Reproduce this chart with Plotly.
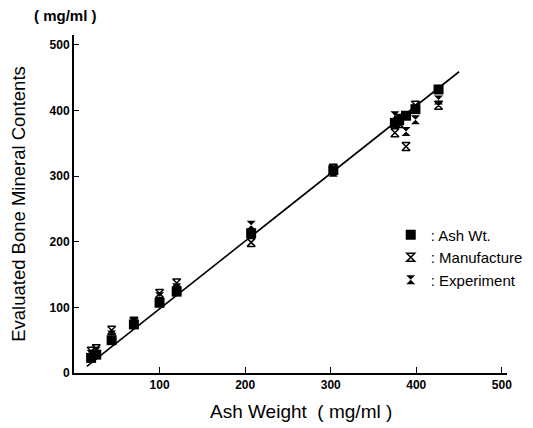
import plotly.graph_objects as go

# Ash weight of each sample (mg/ml)
ash_weight = [20, 26, 44, 70, 100, 120, 207, 303, 375, 380, 388, 399, 426]
# Evaluated bone mineral contents (mg/ml)
ash_wt_vals = [23, 28, 50, 74, 107, 124, 213, 309, 381, 385, 392, 402, 432]
manufacture_vals = [33, 37, 65, 79, 121, 137, 199, 312, 366, 380, 345, 408, 408]
experiment_vals = [28, 33, 58, 77, 116, 130, 225, 306, 392, 388, 368, 386, 416]

# regression line end points
fit_x = [15, 450]
fit_y = [10, 459]

x_ticks = [100, 200, 300, 400, 500]
y_ticks = [0, 100, 200, 300, 400, 500]

FONT = "Liberation Sans, Arial, Helvetica, sans-serif"

fig = go.Figure()
fig.add_trace(go.Scatter(x=fit_x, y=fit_y, mode="lines",
                         line=dict(color="black", width=1.6),
                         showlegend=False, hoverinfo="skip"))
fig.add_trace(go.Scatter(x=ash_weight, y=manufacture_vals, mode="markers",
                         name=": Manufacture", legendgroup="b", legendrank=2,
                         marker=dict(symbol="hourglass-open", size=8, color="black",
                                     line=dict(width=1.5, color="black"))))
fig.add_trace(go.Scatter(x=ash_weight, y=experiment_vals, mode="markers",
                         name=": Experiment", legendgroup="c", legendrank=3,
                         marker=dict(symbol="hourglass", size=9, color="black",
                                     line=dict(width=0))))
fig.add_trace(go.Scatter(x=ash_weight, y=ash_wt_vals, mode="markers",
                         name=": Ash Wt.", legendgroup="a", legendrank=1,
                         marker=dict(symbol="square", size=10, color="black",
                                     line=dict(width=0))))

fig.update_layout(
    width=533, height=428,
    margin=dict(l=66, r=34, t=27, b=63),
    paper_bgcolor="white", plot_bgcolor="white",
    font=dict(family=FONT, color="black"),
    showlegend=True,
    legend=dict(x=0.7315, y=0.457, xanchor="left", yanchor="top",
                font=dict(size=15, family=FONT, color="black"),
                tracegroupgap=9, bgcolor="rgba(0,0,0,0)",
                traceorder="normal"),
    xaxis=dict(range=[0, 506], tickvals=x_ticks, ticktext=[str(v) for v in x_ticks],
               ticks="inside", ticklen=6, tickwidth=1.2, tickcolor="black",
               showline=True, linecolor="black", linewidth=2,
               showgrid=False, zeroline=False, automargin=False,
               tickfont=dict(size=12, family=FONT, weight="bold")),
    yaxis=dict(range=[0, 515], tickvals=y_ticks, ticktext=[str(v) for v in y_ticks],
               ticks="inside", ticklen=5, tickwidth=1.2, tickcolor="black",
               showline=True, linecolor="black", linewidth=2,
               showgrid=False, zeroline=False, automargin=False,
               tickfont=dict(size=12, family=FONT, weight="bold"),
               title=dict(text="Evaluated Bone Mineral Contents", standoff=26,
                          font=dict(size=18.5, family=FONT))),
    annotations=[
        dict(text="( mg/ml )", xref="paper", yref="paper",
             x=-0.097, y=1.0, yshift=20, xanchor="left", yanchor="middle",
             showarrow=False, font=dict(size=15, family=FONT, weight="bold")),
        dict(text="Ash Weight  ( mg/ml )", xref="paper", yref="paper",
             x=0.524, y=0.0, yshift=-38, xanchor="center", yanchor="middle",
             showarrow=False, font=dict(size=19, family=FONT)),
    ],
)

fig.write_html("out.html")
